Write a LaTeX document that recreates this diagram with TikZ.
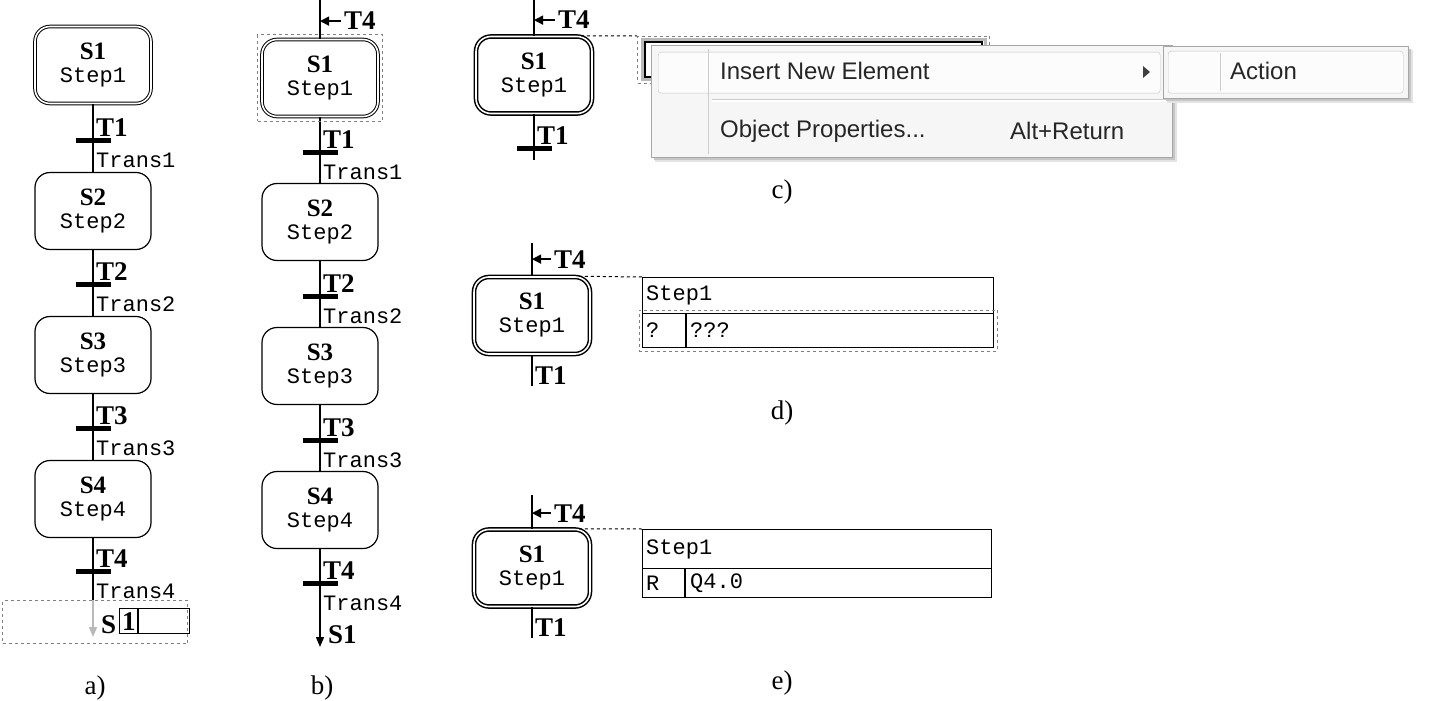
\documentclass[tikz,border=0pt]{standalone}
\usepackage{fontspec}
\setmainfont{Liberation Serif}
\newfontfamily\monofam{Liberation Mono}
\newfontfamily\sansfam{Liberation Sans}
\newcommand\stepfont{\monofam\fontsize{22}{25}\selectfont}
\newcommand\sfont{\rmfamily\bfseries\fontsize{25}{26}\selectfont}
\newcommand\tfont{\rmfamily\bfseries\fontsize{27}{28}\selectfont}
\newcommand\menufont{\sansfam\fontsize{24}{28}\selectfont}
\newcommand\capfont{\rmfamily\fontsize{27}{30}\selectfont}
\usetikzlibrary{arrows.meta,fit}
\tikzset{
  wire/.style={line width=1.4pt},
  stp/.style={draw,line width=1.2pt,rounded corners=15pt,minimum width=116,minimum height=77,align=center,inner sep=0pt,font=\stepfont},
  init/.style={stp,double,double distance=1.6pt,line width=1pt},
  hot/.style={init,line width=1.5pt},
  tbar/.style={fill=black,minimum width=35,minimum height=5,inner sep=0pt},
  tlab/.style={font=\tfont,anchor=base west,inner sep=0pt},
  tname/.style={font=\stepfont,anchor=base west,inner sep=0pt},
  sel/.style={draw=gray,dashed,line width=1pt},
  jmp/.style={line width=1.4pt,-{Triangle[length=9pt,width=9pt]}},
  endarr/.style={line width=1.4pt,-{Triangle[length=10pt,width=8pt]}},
  panel/.style={font=\capfont},
  cell/.style={draw,line width=1.2pt,anchor=north west,inner sep=0pt},
  celltxt/.style={font=\stepfont,anchor=west,inner sep=0pt},
  mbox/.style={anchor=north west,inner sep=0pt},
  mitem/.style={font=\menufont,text=black!85,anchor=west,inner sep=0pt}
}
\begin{document}
\begin{tikzpicture}[x=1pt,y=-1pt]
  \useasboundingbox (0,0) rectangle (1433,701);
  % a)
  \node[init] (a1) at (93,65) {{\sfont S1}\\[-2pt]Step1};
  \foreach \i/\y in {2/211,3/355,4/499} \node[stp] (a\i) at (93,\y) {{\sfont S\i}\\[-2pt]Step\i};
  \foreach \i/\y in {1/140,2/284,3/428,4/571} {\node[tbar] (ta\i) at (93,\y) {};
    \node[tlab] at ([shift={(3,-4)}]ta\i.center) {T\i}; \node[tname] at ([shift={(3,27)}]ta\i.center) {Trans\i};}
  \foreach \i/\j in {1/2,2/3,3/4} \draw[wire] (a\i) -- (a\j);
  \coordinate (ae) at (93,600); \coordinate (aet) at (93,637);
  \draw[wire] (a4) -- (ae); \draw[endarr,gray!55] (ae) -- (aet);
  \node[sel,anchor=north west,minimum width=185,minimum height=43] (asel) at (2,600) {};
  \node[tlab] (as) at (101,633) {S}; \node[cell,minimum width=70,minimum height=25] (abox) at (119,608) {};
  \node[tlab,anchor=west] at ([xshift=3]abox.west) {1}; \draw[line width=1.2pt] ([xshift=19]abox.north west) -- ([xshift=19]abox.south west);
  \node[panel] at (95,688) {a)};
  % b)
  \node[init] (b1) at (320,78) {{\sfont S1}\\[-2pt]Step1};
  \foreach \i/\y in {2/222,3/366,4/510} \node[stp] (b\i) at (320,\y) {{\sfont S\i}\\[-2pt]Step\i};
  \foreach \i/\y in {1/152,2/296,3/440,4/583} {\node[tbar] (tb\i) at (320,\y) {};
    \node[tlab] at ([shift={(3,-4)}]tb\i.center) {T\i}; \node[tname] at ([shift={(3,27)}]tb\i.center) {Trans\i};}
  \foreach \i/\j in {1/2,2/3,3/4} \draw[wire] (b\i) -- (b\j);
  \coordinate (bt) at (320,0); \coordinate (be) at (320,647);
  \draw[wire] (bt) -- (b1); \draw[endarr] (b4) -- (be); \node[tlab] at (328,643) {S1};
  \node[tlab] (jb) at (344,30) {T4}; \draw[jmp] ([xshift=-3]jb.west) -- (jb.west -| bt);
  \node[sel,fit=(b1),inner sep=4pt] (bsel) {};
  \node[panel] at (322,688) {b)};
  % c)
  \node[hot] (c1) at (534,75) {{\sfont S1}\\[-2pt]Step1};
  \coordinate (ct) at (534,0); \coordinate (cb) at (534,160);
  \node[tbar] (tc1) at (534,148) {}; \node[tlab] at ([shift={(3,-4)}]tc1.center) {T1};
  \draw[wire] (ct) -- (c1); \draw[wire] (c1) -- (cb);
  \node[tlab] (jc) at (558,29) {T4}; \draw[jmp] ([xshift=-3]jc.west) -- (jc.west -| ct);
  \node[sel,anchor=north west,minimum width=352,minimum height=47] (csel) at (637,36) {};
  \draw[dashed,line width=1pt] ([xshift=-12]c1.north east) -- (csel.north west);
  \draw[gray!55,line width=3pt] (642,40) rectangle (985,80); \draw[line width=1.3pt] (645,42) rectangle (982,77);
  \fill[gray!22] (655,49) rectangle (1177,162); \fill[gray!45] (654,48) rectangle (1175,160);
  \node[mbox,draw=gray!70,fill=gray!7,minimum width=521,minimum height=112] (mnu) at (651,45) {};
  \node[mbox,draw=gray!45,fill=gray!2,rounded corners=3,minimum width=502,minimum height=41] (mhi) at (658,52) {};
  \draw[gray!40] (708,49) -- (708,154); \draw[gray!40] (712,99) -- (1168,99); \draw[white,line width=1.2pt] (712,101) -- (1168,101);
  \node[mitem] (mi1) at (720,71) {Insert New Element}; \node[mitem] (mi2) at (720,131) {Object Properties...};
  \node[mitem] (mi3) at (1010,131) {Alt+Return};
  \fill[black!75] (1143,66) -- (1150,72) -- (1143,78) -- cycle;
  \fill[gray!22] (1167,50) rectangle (1413,103); \fill[gray!45] (1166,49) rectangle (1411,101);
  \node[mbox,draw=gray!70,fill=gray!7,minimum width=245,minimum height=52] (sub) at (1163,46) {};
  \node[mbox,draw=gray!45,fill=gray!2,rounded corners=3,minimum width=235,minimum height=42] (shi) at (1168,51) {};
  \draw[gray!40] (1220,53) -- (1220,91);
  \node[mitem] (mi4) at (1230,71) {Action};
  \node[panel] at (782,192) {c)};
  % d)
  \node[hot] (d1) at (532,315.5) {{\sfont S1}\\[-2pt]Step1};
  \coordinate (dt) at (532,243); \coordinate (db) at (532,386);
  \draw[wire] (dt) -- (d1); \draw[wire] (d1) -- (db); \node[tlab] at (535,384) {T1};
  \node[tlab] (jd) at (554,268) {T4}; \draw[jmp] ([xshift=-3]jd.west) -- (jd.west -| dt);
  \node[cell,minimum width=351,minimum height=36] (dh) at (642,277) {};
  \node[cell,minimum width=351,minimum height=34] (dr) at (642,313) {};
  \draw[line width=1.2pt] ([xshift=44]dr.north west) -- ([xshift=44]dr.south west);
  \node[celltxt] at ([xshift=4]dh.west) {Step1}; \node[celltxt] at ([xshift=4]dr.west) {?}; \node[celltxt] at ([xshift=48]dr.west) {???};
  \node[sel,fit=(dr),inner sep=3pt] (dsel) {};
  \draw[dashed,line width=1pt] ([xshift=-12]d1.north east) -- (dh.north west);
  \node[panel] at (782,413) {d)};
  % e)
  \node[hot] (e1) at (532,568) {{\sfont S1}\\[-2pt]Step1};
  \coordinate (et) at (532,495); \coordinate (eb) at (532,638);
  \draw[wire] (et) -- (e1); \draw[wire] (e1) -- (eb); \node[tlab] at (535,636) {T1};
  \node[tlab] (je) at (554,522) {T4}; \draw[jmp] ([xshift=-3]je.west) -- (je.west -| et);
  \node[cell,minimum width=349,minimum height=39] (eh) at (642,529) {};
  \node[cell,minimum width=349,minimum height=29] (er) at (642,568) {};
  \draw[line width=1.2pt] ([xshift=43]er.north west) -- ([xshift=43]er.south west);
  \node[celltxt] at ([xshift=4]eh.west) {Step1}; \node[celltxt] at ([xshift=4]er.west) {R}; \node[celltxt] at ([xshift=48]er.west) {Q4.0};
  \draw[dashed,line width=1pt] ([xshift=-12]e1.north east) -- (eh.north west);
  \node[panel] at (782,683) {e)};
\end{tikzpicture}
\end{document}
